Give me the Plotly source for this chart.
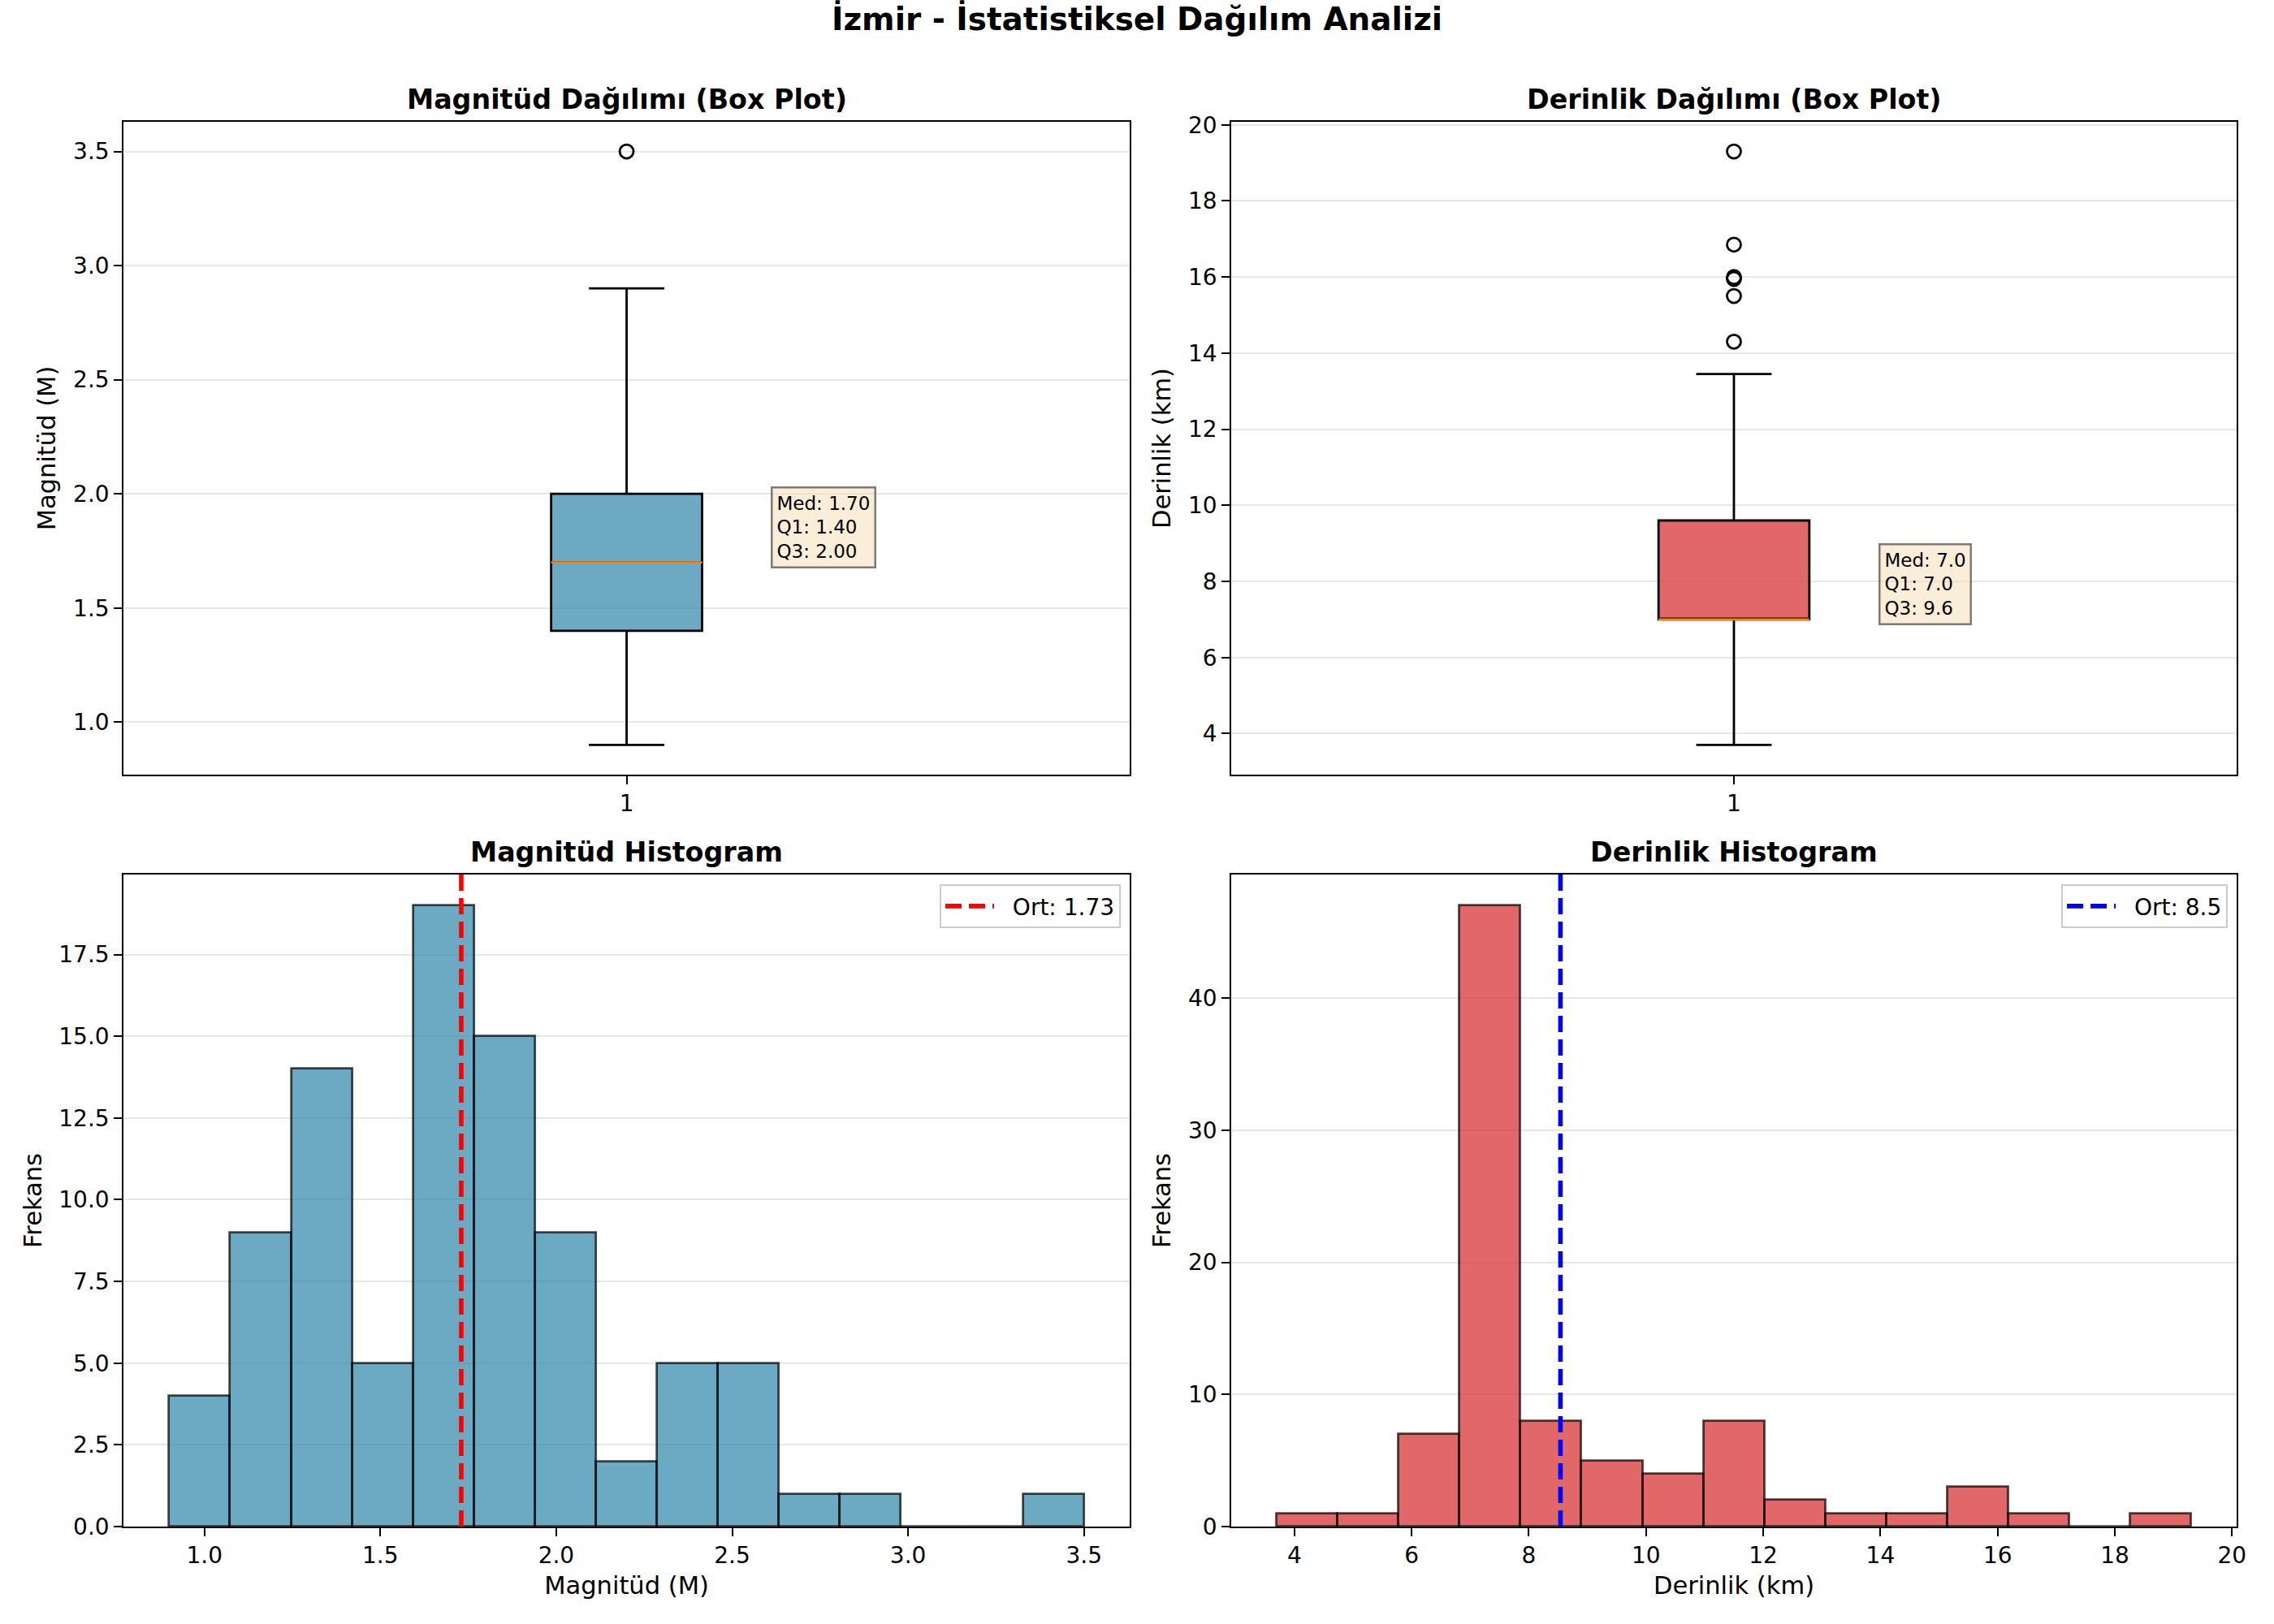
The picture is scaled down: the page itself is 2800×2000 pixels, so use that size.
import numpy as np
import plotly.graph_objects as go

# %% Data
mag_q1, mag_median, mag_q3 = 1.40, 1.70, 2.00
mag_low, mag_high = 0.90, 2.90
mag_outliers = [3.5]

dep_q1, dep_median, dep_q3 = 7.0, 7.0, 9.6
dep_low, dep_high = 3.7, 13.45
dep_outliers = [14.3, 15.5, 15.95, 16.0, 16.85, 19.3]

mag_min, mag_max = 0.9, 3.5
mag_counts = [4, 9, 14, 5, 19, 15, 9, 2, 5, 5, 1, 1, 0, 0, 1]
mag_mean = 1.73

dep_min, dep_max = 3.7, 19.3
dep_counts = [1, 1, 7, 47, 8, 5, 4, 8, 2, 1, 1, 3, 1, 0, 1]
dep_mean = 8.54

# %% Styles
FONT = "DejaVu Sans"
BLUE = "rgba(46,134,171,0.7)"
RED = "rgba(214,39,40,0.7)"
EDGE = "rgba(0,0,0,0.7)"
LW = 2.8
BOX_W = 0.15

TICK = 28
LABEL = 30.5
TITLE = 33.3

fig = go.Figure()


def pad_range(lo, hi, m=0.05):
    d = hi - lo
    return [lo - m * d, hi + m * d]


def add_box(xa, ya, q1, med, q3, lo, hi, outliers, color):
    fig.add_trace(go.Box(
        x=[1], q1=[q1], median=[med], q3=[q3], lowerfence=[lo], upperfence=[hi],
        width=BOX_W, whiskerwidth=0.5, fillcolor=color,
        line=dict(color="black", width=LW), boxpoints=False,
        xaxis=xa, yaxis=ya, showlegend=False, hoverinfo="skip"))
    # orange median line on top of the box
    fig.add_trace(go.Scatter(
        x=[1 - BOX_W / 2, 1 + BOX_W / 2], y=[med, med], mode="lines",
        line=dict(color="#ff7f0e", width=LW), xaxis=xa, yaxis=ya,
        showlegend=False, hoverinfo="skip"))
    fig.add_trace(go.Scatter(
        x=[1] * len(outliers), y=outliers, mode="markers",
        marker=dict(symbol="circle-open", size=17, color="black", line=dict(width=LW)),
        xaxis=xa, yaxis=ya, showlegend=False, hoverinfo="skip"))


def add_hist(xa, ya, lo, hi, counts, color):
    edges = np.linspace(lo, hi, len(counts) + 1)
    centers = (edges[:-1] + edges[1:]) / 2
    fig.add_trace(go.Bar(
        x=centers, y=counts, width=edges[1] - edges[0],
        marker=dict(color=color, line=dict(color=EDGE, width=LW)),
        xaxis=xa, yaxis=ya, showlegend=False, hoverinfo="skip"))


add_box("x", "y", mag_q1, mag_median, mag_q3, mag_low, mag_high, mag_outliers, BLUE)
add_box("x2", "y2", dep_q1, dep_median, dep_q3, dep_low, dep_high, dep_outliers, RED)
add_hist("x3", "y3", mag_min, mag_max, mag_counts, BLUE)
add_hist("x4", "y4", dep_min, dep_max, dep_counts, RED)

# mean lines
fig.add_shape(type="line", x0=mag_mean, x1=mag_mean, y0=0, y1=1, xref="x3", yref="y3 domain",
              line=dict(color="red", width=5.6, dash="20px,9px"),
              showlegend=True, name=f"  Ort: {mag_mean:.2f}", legend="legend")
fig.add_shape(type="line", x0=dep_mean, x1=dep_mean, y0=0, y1=1, xref="x4", yref="y4 domain",
              line=dict(color="blue", width=5.6, dash="20px,9px"),
              showlegend=True, name=f"  Ort: {dep_mean:.1f}", legend="legend2")

# stats boxes
for xr, yr, med, q1, q3, fmt in [("x", "y", mag_median, mag_q1, mag_q3, ".2f"),
                                  ("x2", "y2", dep_median, dep_q1, dep_q3, ".1f")]:
    fig.add_annotation(
        x=1.15, y=med, xref=xr, yref=yr, xanchor="left", yanchor="bottom",
        text=f"Med: {med:{fmt}}<br>Q1: {q1:{fmt}}<br>Q3: {q3:{fmt}}",
        align="left", showarrow=False, font=dict(family=FONT, size=23, color="black"),
        bgcolor="rgba(245,222,179,0.5)", bordercolor="rgba(0,0,0,0.5)",
        borderwidth=2.5, borderpad=5, xshift=-8, yshift=-7)

# %% Layout
XL, XR = [0.0543, 0.4968], [0.5414, 0.9836]
YT, YB = [0.523, 0.925], [0.06, 0.4615]

axis_common = dict(
    showline=True, linecolor="black", linewidth=2.2, mirror=True,
    ticks="outside", ticklen=9.7, tickwidth=2.2, tickcolor="black",
    tickfont=dict(family=FONT, size=TICK, color="black"),
    zeroline=False, automargin=False,
)
xgrid = dict(showgrid=False)
ygrid = dict(showgrid=True, gridcolor="rgba(176,176,176,0.3)", gridwidth=2.2)
title_font = dict(family=FONT, size=LABEL, color="black")
legend_style = dict(xanchor="right", yanchor="top", bgcolor="rgba(255,255,255,0.8)",
                    bordercolor="#cccccc", borderwidth=2.2,
                    font=dict(family=FONT, size=TICK), itemwidth=60)

fig.update_layout(
    width=2800, height=2000,
    margin=dict(l=0, r=0, t=0, b=0),
    paper_bgcolor="white", plot_bgcolor="white",
    font=dict(family=FONT, color="black"),
    bargap=0,
    xaxis=dict(domain=XL, anchor="y", range=[0.5, 1.5], tickvals=[1], ticktext=["1"],
               **axis_common, **xgrid),
    yaxis=dict(domain=YT, anchor="x", range=pad_range(mag_low, max(mag_outliers)),
               tickvals=[1.0, 1.5, 2.0, 2.5, 3.0, 3.5], tickformat=".1f",
               title=dict(text="Magnitüd (M)", font=title_font, standoff=12),
               **axis_common, **ygrid),
    xaxis2=dict(domain=XR, anchor="y2", range=[0.5, 1.5], tickvals=[1], ticktext=["1"],
                **axis_common, **xgrid),
    yaxis2=dict(domain=YT, anchor="x2", range=pad_range(dep_low, max(dep_outliers)),
                tickvals=list(range(4, 21, 2)),
                title=dict(text="Derinlik (km)", font=title_font, standoff=12),
                **axis_common, **ygrid),
    xaxis3=dict(domain=XL, anchor="y3", range=pad_range(mag_min, mag_max),
                tickvals=[1.0, 1.5, 2.0, 2.5, 3.0, 3.5], tickformat=".1f",
                title=dict(text="Magnitüd (M)", font=title_font, standoff=10),
                **axis_common, **xgrid),
    yaxis3=dict(domain=YB, anchor="x3", range=[0, max(mag_counts) * 1.05],
                tickvals=[0, 2.5, 5, 7.5, 10, 12.5, 15, 17.5], tickformat=".1f",
                title=dict(text="Frekans", font=title_font, standoff=12),
                **axis_common, **ygrid),
    xaxis4=dict(domain=XR, anchor="y4", range=pad_range(dep_min, dep_max),
                tickvals=list(range(4, 21, 2)),
                title=dict(text="Derinlik (km)", font=title_font, standoff=10),
                **axis_common, **xgrid),
    yaxis4=dict(domain=YB, anchor="x4", range=[0, max(dep_counts) * 1.05],
                tickvals=[0, 10, 20, 30, 40],
                title=dict(text="Frekans", font=title_font, standoff=12),
                **axis_common, **ygrid),
    legend=dict(x=XL[1] - 0.004, y=YB[1] - 0.006, **legend_style),
    legend2=dict(x=XR[1] - 0.004, y=YB[1] - 0.006, **legend_style),
)

# titles
fig.add_annotation(text="<b>İzmir - İstatistiksel Dağılım Analizi</b>", x=0.5, y=1 - 23 / 2000,
                   xref="paper", yref="paper", xanchor="center", yanchor="middle",
                   showarrow=False, font=dict(family=FONT, size=38.9, color="black"))
for txt, dom_x, dom_y in [("Magnitüd Dağılımı (Box Plot)", XL, YT),
                          ("Derinlik Dağılımı (Box Plot)", XR, YT),
                          ("Magnitüd Histogram", XL, YB),
                          ("Derinlik Histogram", XR, YB)]:
    fig.add_annotation(text=f"<b>{txt}</b>", x=(dom_x[0] + dom_x[1]) / 2, y=dom_y[1],
                       xref="paper", yref="paper", xanchor="center", yanchor="bottom",
                       yshift=6, showarrow=False,
                       font=dict(family=FONT, size=TITLE, color="black"))

# drop the browser's default body margin so the figure sits at the page corner
fig.write_html("out.html", config={"displayModeBar": False},
               post_script="document.body.style.margin='0';")
